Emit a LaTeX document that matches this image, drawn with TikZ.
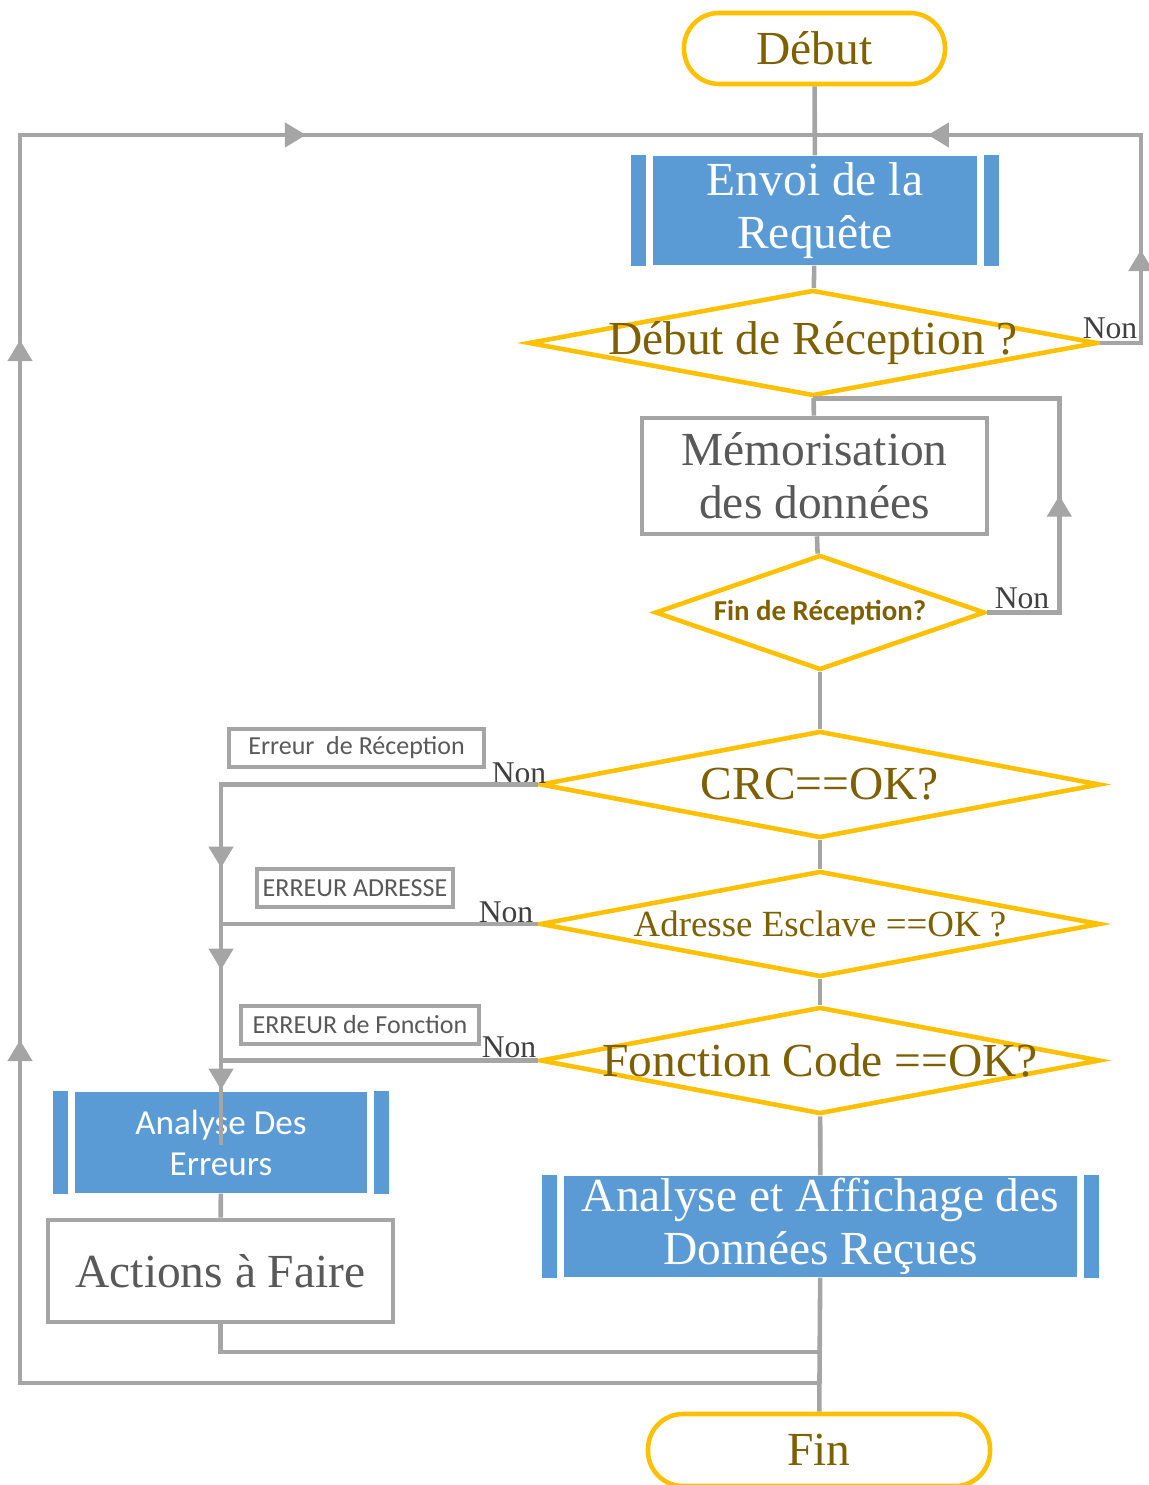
\documentclass[tikz,border=0pt]{standalone}
\usepackage{fontspec}
\setmainfont{Liberation Serif}
\newfontfamily\calib{Carlito}
\usetikzlibrary{shapes.geometric,arrows.meta,decorations.markings,calc}
\definecolor{lineg}{HTML}{A5A5A5}
\definecolor{yelb}{HTML}{FFC000}
\definecolor{goldt}{HTML}{7F6000}
\definecolor{blueb}{HTML}{5B9BD5}
\definecolor{txtg}{HTML}{595959}
\definecolor{nong}{HTML}{404040}
\newcommand\grandtxt{\fontsize{13.5}{15}\selectfont}
\newcommand\moyentxt{\fontsize{10.5}{12}\selectfont}
\newcommand\nontxt{\fontsize{9}{10}\selectfont}
\tikzset{
  conn/.style={lineg, line width=1.3pt},
  fleche/.style={postaction={decorate,decoration={markings,
      mark=at position #1 with {\arrow{Triangle[width=6.8pt,length=6pt]}}}}},
  terminal/.style={draw=yelb, line width=1.3pt, rounded corners=0.35cm, text=goldt,
      font=\grandtxt, minimum height=0.71cm, inner sep=0pt},
  decision/.style={diamond, draw=yelb, line width=1.3pt, text=goldt, inner sep=0pt,
      font=\grandtxt},
  predef/.style={fill=blueb, text=white, inner sep=0pt, align=center, font=\grandtxt},
  proc/.style={draw=lineg, line width=1.3pt, fill=white, text=txtg, inner sep=0pt,
      align=center, font=\grandtxt},
  errbox/.style={draw=lineg, line width=1.3pt, text=txtg, inner sep=0pt,
      font=\calib\fontsize{7.4}{8}\selectfont, minimum height=0.38cm},
  non/.style={text=nong, font=\nontxt, inner sep=0pt}
}
\begin{document}
\begin{tikzpicture}
  \useasboundingbox (0,0) rectangle (11.48,-14.85);
  % blocs principaux
  \node[terminal, minimum width=2.61cm] (debut) at (8.145,-0.485) {Début};
  \node[predef, minimum width=3.24cm, minimum height=1.09cm] (envoi) at (8.15,-2.105)
    {Envoi de la\\Requête};
  \node[decision, minimum width=5.69cm, minimum height=1.06cm] (drec) at (8.13,-3.43)
    {\makebox[0pt]{Début de Réception ?}};
  \node[proc, minimum width=3.45cm, minimum height=1.16cm] (memo) at (8.145,-4.76)
    {Mémorisation\\des données};
  \node[decision, minimum width=3.30cm, minimum height=1.15cm,
    font=\calib\bfseries\fontsize{8.2}{9}\selectfont] (frec) at (8.20,-6.125)
    {\makebox[0pt]{Fin de Réception?}};
  \node[decision, minimum width=5.60cm, minimum height=1.07cm] (crc) at (8.20,-7.845)
    {\makebox[0pt]{CRC==OK?}};
  \node[decision, minimum width=5.60cm, minimum height=1.06cm, font=\moyentxt] (adr)
    at (8.20,-9.24) {\makebox[0pt]{Adresse Esclave ==OK ?}};
  \node[decision, minimum width=5.60cm, minimum height=1.07cm] (fct) at (8.20,-10.605)
    {\makebox[0pt]{Fonction Code ==OK?}};
  \node[predef, minimum width=5.13cm, minimum height=1.01cm] (affich) at (8.205,-12.265)
    {Analyse et Affichage des\\Données Reçues};
  \node[terminal, minimum width=3.42cm, minimum height=0.72cm] (fin) at (8.19,-14.50) {Fin};
  % branche des erreurs
  \node[predef, minimum width=2.92cm, minimum height=1.01cm,
    font=\calib\fontsize{10}{11.7}\selectfont] (anaerr) at (2.21,-11.425)
    {Analyse Des\\Erreurs};
  \node[proc, minimum width=3.45cm, minimum height=1.02cm] (actions) at (2.205,-12.71)
    {Actions à Faire};
  \node[errbox, minimum width=2.55cm] (errrec) at (3.565,-7.48) {Erreur~~de Réception};
  \node[errbox, minimum width=1.96cm] (erradr) at (3.55,-8.88) {ERREUR ADRESSE};
  \node[errbox, minimum width=2.38cm] (errfct) at (3.60,-10.25) {ERREUR de Fonction};
  % barres des sous-programmes
  \foreach \n in {envoi,anaerr,affich} {
    \fill[blueb] ($(\n.north west)+(-0.215,0)$) rectangle ($(\n.south west)+(-0.06,0)$);
    \fill[blueb] ($(\n.north east)+(0.06,0)$) rectangle ($(\n.south east)+(0.215,0)$);
  }
  % labels Non
  \node[non] (non1) at (11.10,-3.28) {Non};
  \node[non] (non2) at (10.22,-5.98) {Non};
  \node[non] (non3) at (5.19,-7.73) {Non};
  \node[non] (non4) at (5.06,-9.12) {Non};
  \node[non] (non5) at (5.09,-10.47) {Non};
  % points de jonction
  \coordinate (topj) at (8.15,-1.35);
  \coordinate (botj) at (8.20,-13.83);
  \coordinate (sumj) at (8.20,-13.52);
  \coordinate (errend) at (2.21,-11.45);
  % liaisons
  \draw[conn] (debut) -- (envoi);
  \draw[conn] (envoi) -- (drec);
  \draw[conn] (drec) -- (memo);
  \draw[conn] (memo) -- (frec);
  \draw[conn] (frec) -- (crc);
  \draw[conn] (crc) -- (adr);
  \draw[conn] (adr) -- (fct);
  \draw[conn] (fct) -- (affich);
  \draw[conn] (affich) -- (fin);
  \draw[conn] (anaerr) -- (actions);
  \draw[conn, fleche=1.34cm, fleche=4.62cm] (drec.east) -- ++(0.41,0) |- (topj);
  \draw[conn, fleche=1.89cm] (frec.east) -- ++(0.72,0) |- (drec.south);
  \draw[conn, fleche=4.00cm, fleche=5.02cm, fleche=6.22cm] (crc.west) -| (errend);
  \draw[conn] (adr.west) -- (adr.west -| errend);
  \draw[conn] (fct.west) -- (fct.west -| errend);
  \draw[conn] (actions.south) |- (sumj);
  \draw[conn, fleche=11.43cm, fleche=18.43cm, fleche=23.34cm]
    (botj) -| (0.20,-1.35) -- (topj);
\end{tikzpicture}
\end{document}
